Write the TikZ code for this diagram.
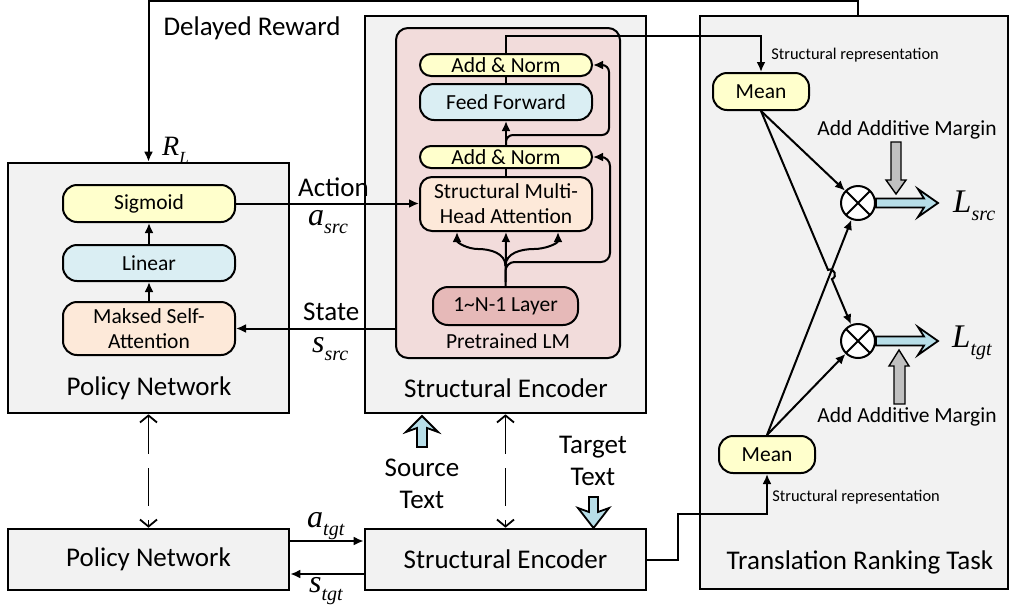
\documentclass[tikz,border=0pt]{standalone}
\usepackage{fontspec}
\setmainfont{Carlito}
\newfontfamily\tms{Liberation Serif}
\usetikzlibrary{arrows.meta,calc,intersections}
\definecolor{grayf}{HTML}{F2F2F2}
\definecolor{plmf}{HTML}{F2DCDB}
\definecolor{layf}{HTML}{E6B9B8}
\definecolor{yelf}{HTML}{FFFFCC}
\definecolor{bluef}{HTML}{DAEEF3}
\definecolor{orgf}{HTML}{FDE9D9}
\definecolor{hblue}{HTML}{B7DEE8}
\definecolor{garr}{HTML}{C0C0C0}
\newcommand{\fbig}{\fontsize{27}{32}\selectfont}
\newcommand{\fmid}{\fontsize{21.5}{25}\selectfont}
\newcommand{\fsmall}{\fontsize{16.4}{18}\selectfont}
\newcommand{\mlab}[3]{{\tms\itshape\fontsize{#3}{#3}\selectfont #1\fontsize{20}{20}\selectfont\raisebox{-0.4em}{#2}}}
\begin{document}
\begin{tikzpicture}[x=1pt,y=-1pt,
  outer/.style={draw, line width=2.6pt, fill=grayf, inner sep=0, font=\fbig},
  rbox/.style={draw, line width=2pt, rounded corners=12pt, inner sep=0, font=\fmid, align=center},
  lbl/.style={font=\fbig, align=center, inner sep=0},
  mlb/.style={inner sep=0, anchor=base west},
  arr/.style={line width=2pt, -{Latex[length=10pt,width=9pt]}},
  plain/.style={line width=2pt},
  darr/.style={line width=1.8pt, dash pattern=on 38pt off 14pt, {Straight Barb[length=7pt,width=17pt]}-{Straight Barb[length=7pt,width=17pt]}},
  harrow/.style={draw, line width=1.8pt, fill=hblue},
  garrow/.style={draw, line width=1.4pt, fill=garr},
  otim/.style={circle, draw, fill=white, line width=2pt, minimum size=34pt, inner sep=0,
    path picture={\draw[line width=2pt] (path picture bounding box.north west) -- (path picture bounding box.south east) (path picture bounding box.north east) -- (path picture bounding box.south west);}}
]
\useasboundingbox (0,0) rectangle (1009,606);

% outer boxes
\node[outer, minimum width=281pt, minimum height=250pt] (pn1) at (148.5,288) {};
\node[outer, minimum width=281pt, minimum height=61pt] (pn2) at (148.5,559.5) {Policy Network};
\node[outer, minimum width=281pt, minimum height=397pt] (se1) at (505.5,214.5) {};
\node[outer, minimum width=281pt, minimum height=61pt] (se2) at (505.5,559.5) {Structural Encoder};
\node[outer, minimum width=308pt, minimum height=573pt] (trt) at (854,302.5) {};

% pretrained LM
\node[rbox, fill=plmf, minimum width=224pt, minimum height=330pt] (plm) at (508,193) {};
\node[rbox, fill=yelf, rounded corners=11pt, minimum width=172pt, minimum height=22pt] (an1) at (506,65) {Add \& Norm};
\node[rbox, fill=bluef, rounded corners=14pt, minimum width=172pt, minimum height=36pt] (ff) at (506,102) {Feed Forward};
\node[rbox, fill=yelf, rounded corners=11pt, minimum width=172pt, minimum height=22pt] (an2) at (506,157) {Add \& Norm};
\node[rbox, fill=orgf, minimum width=172pt, minimum height=54pt] (mha) at (506,204) {Structural Multi-\\Head Attention};
\node[rbox, fill=layf, rounded corners=15pt, minimum width=145pt, minimum height=38pt] (lay) at (505.5,306) {1\textasciitilde N-1 Layer};
\node[font=\fmid, inner sep=0] (plml) at (508,341) {Pretrained LM};
\node[lbl] (sel) at (506,388) {Structural Encoder};

% policy network
\node[rbox, fill=yelf, rounded corners=14pt, minimum width=172pt, minimum height=37pt] (sig) at (149,203.5) {Sigmoid};
\node[rbox, fill=bluef, rounded corners=14pt, minimum width=172pt, minimum height=36pt] (lin) at (149,263) {Linear};
\node[rbox, fill=orgf, rounded corners=14pt, minimum width=172pt, minimum height=53pt] (msa) at (149,328.5) {Maksed Self-\\Attention};
\node[lbl] (pnl) at (149,388) {Policy Network};

% translation ranking
\node[rbox, fill=yelf, rounded corners=14pt, minimum width=96pt, minimum height=37pt] (meanT) at (761,91.5) {Mean};
\node[rbox, fill=yelf, rounded corners=14pt, minimum width=96pt, minimum height=37pt] (meanB) at (767,454.5) {Mean};
\node[otim] (ot1) at (858,203) {};
\node[otim] (ot2) at (858,341) {};
\node[lbl] (trtl) at (860,562) {Translation Ranking Task};
\node[font=\fsmall, inner sep=0] (sr1) at (855,55) {Structural representation};
\node[font=\fsmall, inner sep=0] (sr2) at (856,497) {Structural representation};
\node[font=\fmid, inner sep=0] (am1) at (907,130) {Add Additive Margin};
\node[font=\fmid, inner sep=0] (am2) at (907,417) {Add Additive Margin};
\node[mlb] (ls) at (953,212) {\mlab{L}{src}{33}};
\node[mlb] (lt) at (952,347) {\mlab{L}{tgt}{33}};

% labels
\node[lbl] (dr) at (252,28) {Delayed Reward};
\node[mlb] (rl) at (162,155) {\mlab{R}{\fontsize{17}{17}\selectfont L}{28}};
\node[lbl, anchor=base west] (act) at (298,196) {Action};
\node[mlb] (asrc) at (308,225) {\mlab{a}{src}{32}};
\node[lbl, anchor=base west] (st) at (303,320) {State};
\node[mlb] (ssrc) at (312,352) {\mlab{s}{src}{32}};
\node[mlb] (atgt) at (307,527) {\mlab{a}{tgt}{32}};
\node[mlb] (stgt) at (309,592) {\mlab{s}{tgt}{32}};
\node[lbl] (srct) at (422,484) {Source\\Text};
\node[lbl] (tgtt) at (593,461) {Target\\Text};

% delayed reward connector
\draw[arr] ([xshift=159pt]trt.north west) -- ++(0,-14) -| (pn1.north);

% action / state
\draw[arr] (sig.east) -- (sig.east -| mha.west);
\draw[arr] (plm.west |- msa.east) -- (msa.east);
\draw[arr] ([yshift=18.5pt]pn2.east) -- ([yshift=18.5pt]se2.west);
\draw[arr] ([yshift=-14.5pt]se2.west) -- ([yshift=-14.5pt]pn2.east);

% dashed
\draw[darr] (pn1.south) -- (pn2.north);
\draw[darr] (se1.south) -- (se2.north);

% policy internal
\draw[arr] (msa.north) -- (lin.south);
\draw[arr] (lin.north) -- (sig.south);

% encoder internal
\draw[arr] (lay.north) -- (mha.south);
\draw[arr] ($(lay.north)+(0,-20)$) to[out=90,in=0] ($(mha.south)+(-28,17)$) to[out=180,in=-90] ($(mha.south)+(-49,0)$);
\draw[arr] ($(lay.north)+(0,-20)$) to[out=90,in=180] ($(mha.south)+(28,17)$) to[out=0,in=-90] ($(mha.south)+(52,0)$);
\draw[arr, rounded corners=9pt] ($(lay.north)+(0,-4)$) |- ($(lay.north)+(104.5,-24)$) |- (an2.east);
\draw[plain] (mha.north) -- (an2.south);
\draw[arr] (an2.north) -- (ff.south);
\draw[arr, rounded corners=7pt] (an2.north) |- ($(an2.north)+(103,-10)$) |- (an1.east);
\draw[plain] (ff.north) -- (an1.south);
\draw[arr] (an1.north) |- ($(an1.north)+(40,-17)$) -| (meanT.north);
\draw[arr] (se2.east) -- ++(31,0) -- ++(0,-46) -| (meanB.south);

% mean to otimes
\path[name path=la] (meanT.south) -- (ot2.center);
\path[name path=lb] (meanB.north) -- (ot1.center);
\path[name intersections={of=la and lb, by=X}];
\coordinate (hs) at ($(X)!5pt!(meanT.south)$);
\coordinate (he) at ($(X)!5pt!(ot2.center)$);
\draw[arr] (meanT.south) -- (ot1);
\draw[arr] (meanB.north) -- (ot1);
\draw[arr] (meanB.north) -- (ot2);
\draw[arr] (meanT.south) -- (hs) .. controls ($(hs)!6.7pt!90:(X)$) and ($(he)!6.7pt!-90:(X)$) .. (he) -- (ot2);

% hollow blue arrows to L
\draw[harrow, shift={(ot1.east)}] (0,-4.5) -- (48,-4.5) -- (42,-14) -- (62,0) -- (42,14) -- (48,4.5) -- (0,4.5) -- cycle;
\draw[harrow, shift={(ot2.east)}] (0,-4.5) -- (48,-4.5) -- (42,-14) -- (62,0) -- (42,14) -- (48,4.5) -- (0,4.5) -- cycle;

% gray margin arrows
\draw[garrow] (891,142) -- (901,142) -- (901,180) -- (906,180) -- (896,194) -- (886,180) -- (891,180) -- cycle;
\draw[garrow] (894,404) -- (905,404) -- (905,366) -- (909,366) -- (899,350) -- (889,366) -- (894,366) -- cycle;

% source / target text arrows
\draw[harrow] (422,416) -- (438,432) -- (427,428) -- (427,447) -- (417,447) -- (417,428) -- (406,432) -- cycle;
\draw[harrow] (589,497) -- (598,497) -- (598,512) -- (609,508) -- (593.5,528) -- (578,508) -- (589,512) -- cycle;
\end{tikzpicture}
\end{document}
